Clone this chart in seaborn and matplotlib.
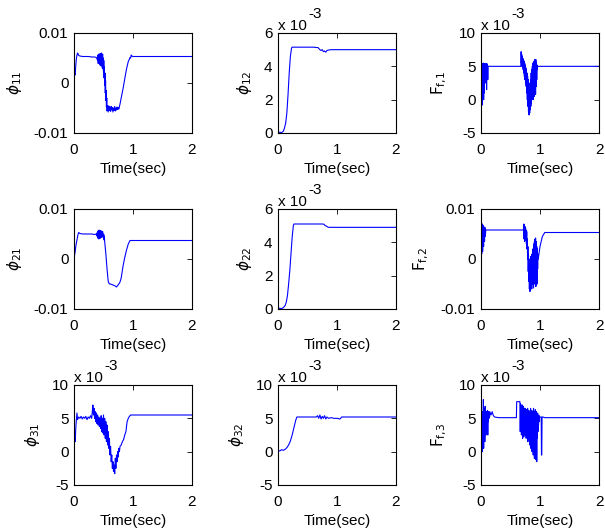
import matplotlib
matplotlib.use("Agg")
import matplotlib.pyplot as plt
import numpy as np
import pandas as pd
import seaborn as sns

# ---------------- data: (time [s], value in units of 1e-3) ----------------
phi11 = [(0.00,0.0),(0.005,1.2),(0.01,2.0),(0.02,1.6),(0.03,3.5),(0.04,4.8),(0.05,5.6),(0.06,6.0),(0.07,5.8),(0.08,5.5),
         (0.10,5.4),(0.15,5.3),(0.20,5.3),(0.25,5.3),(0.30,5.2),(0.35,5.2),(0.38,5.1),
         (0.400,4.5),(0.405,5.6),(0.410,3.9),(0.415,5.4),(0.420,4.6),(0.425,5.8),(0.430,4.0),(0.435,5.6),(0.440,3.6),(0.445,5.9),
         (0.450,4.2),(0.455,5.7),(0.460,3.4),(0.465,6.0),(0.470,3.8),(0.475,5.5),(0.480,3.0),(0.485,5.8),(0.490,2.8),(0.495,5.0),
         (0.500,2.2),(0.505,4.5),(0.510,1.0),(0.515,3.2),(0.520,-0.5),(0.525,2.0),(0.530,-2.0),(0.535,0.5),(0.540,-3.5),(0.545,-1.5),
         (0.550,-4.8),(0.555,-3.0),(0.560,-5.6),
         (0.57,-4.5),(0.58,-5.8),(0.59,-4.6),(0.60,-5.5),(0.61,-4.8),(0.62,-5.7),(0.63,-4.7),(0.64,-5.4),(0.65,-4.9),(0.66,-5.8),
         (0.67,-5.0),(0.68,-5.5),(0.69,-4.7),(0.70,-5.6),(0.71,-5.0),(0.72,-5.4),(0.73,-4.8),(0.74,-5.3),(0.75,-4.9),(0.76,-5.2),
         (0.78,-4.2),(0.80,-3.0),(0.83,-1.2),(0.86,0.8),(0.89,2.8),(0.92,4.3),(0.94,4.8),(0.95,5.1),(0.96,5.0),(0.97,5.6),
         (0.98,5.4),(1.00,5.3),(1.50,5.3),(2.00,5.3)]

phi12 = [(0.00,0.0),(0.03,0.05),(0.06,0.02),(0.09,0.1),(0.11,0.3),(0.13,0.6),(0.15,1.2),(0.17,2.3),(0.19,3.6),(0.21,4.6),
         (0.23,5.1),(0.24,5.15),(0.30,5.15),(0.40,5.15),(0.50,5.15),(0.60,5.15),(0.68,5.12),(0.71,5.0),(0.73,4.95),(0.75,5.0),
         (0.77,4.88),(0.79,4.92),(0.81,4.85),(0.83,4.95),(0.86,4.98),(0.90,5.0),(1.00,5.0),(1.50,5.0),(2.00,5.0)]

ff1 = [(0.000,5.0),(0.005,0.5),(0.010,5.5),(0.015,1.5),(0.020,5.2),(0.025,-0.8),(0.030,5.4),(0.035,2.0),(0.040,5.5),(0.045,0.0),
       (0.050,5.3),(0.055,1.0),(0.060,5.4),(0.065,3.0),(0.070,5.2),(0.075,2.5),(0.080,5.4),(0.085,3.5),(0.090,5.3),(0.095,1.5),
       (0.100,5.4),(0.105,4.0),(0.110,5.2),(0.115,3.0),(0.120,5.0),(0.130,5.0),(0.675,5.0),
       (0.680,7.2),(0.685,5.5),(0.690,6.8),(0.695,5.0),(0.700,6.5),(0.705,4.8),(0.710,6.2),(0.715,4.5),(0.720,6.0),(0.725,4.0),
       (0.730,5.8),(0.735,3.5),(0.740,5.5),(0.745,3.0),(0.750,5.2),(0.755,2.5),(0.760,4.8),(0.765,2.0),(0.770,4.5),(0.775,1.0),
       (0.780,4.0),(0.785,0.0),(0.790,3.5),(0.795,-1.0),(0.800,3.0),(0.805,-1.8),(0.810,2.0),(0.815,-2.3),(0.820,1.5),(0.825,-2.0),
       (0.830,2.5),(0.835,-1.5),(0.840,3.0),(0.845,-1.0),(0.850,4.0),(0.855,-0.5),(0.860,4.5),(0.865,0.0),(0.870,5.0),(0.875,0.5),
       (0.880,5.5),(0.885,0.0),(0.890,5.0),(0.895,1.0),(0.900,5.8),(0.905,0.5),(0.910,6.0),(0.915,1.5),(0.920,5.5),(0.925,0.8),
       (0.930,6.0),(0.935,2.0),(0.940,5.5),(0.945,3.0),(0.950,5.2),(0.955,4.5),(0.960,5.0),(1.00,5.0),(2.00,5.0)]

phi21 = [(0.00,0.0),(0.01,0.8),(0.02,1.5),(0.03,2.5),(0.05,3.8),(0.07,5.0),(0.08,5.3),(0.10,5.1),(0.15,5.0),(0.20,5.0),
         (0.25,5.0),(0.30,5.0),(0.35,4.9),(0.38,5.0),
         (0.390,4.6),(0.395,5.3),(0.400,4.2),(0.405,5.6),(0.410,4.4),(0.415,5.2),(0.420,4.0),(0.425,5.8),(0.430,4.5),(0.435,5.5),
         (0.440,4.1),(0.445,5.7),(0.450,4.6),(0.455,5.4),(0.460,4.3),(0.465,5.6),(0.470,4.8),(0.475,5.2),(0.480,4.4),(0.485,5.5),
         (0.490,4.7),(0.495,5.0),(0.500,4.2),(0.505,4.9),(0.510,3.8),(0.515,4.5),(0.520,3.5),
         (0.54,1.0),(0.56,-2.0),(0.58,-4.5),(0.60,-5.0),(0.62,-5.0),(0.64,-5.1),(0.66,-5.2),(0.68,-5.3),(0.70,-5.4),(0.72,-5.6),
         (0.74,-5.3),(0.76,-5.0),(0.78,-4.6),(0.80,-3.8),(0.83,-1.5),(0.86,0.3),(0.89,1.8),(0.92,3.0),(0.95,3.7),(0.97,3.7),
         (1.00,3.7),(1.50,3.7),(2.00,3.7)]

phi22 = [(0.00,0.0),(0.03,0.05),(0.06,0.02),(0.09,0.08),(0.12,0.2),(0.14,0.4),(0.16,0.8),(0.18,1.5),(0.20,2.3),(0.22,3.3),
         (0.24,4.3),(0.26,5.0),(0.27,5.1),(0.30,5.1),(0.40,5.1),(0.50,5.1),(0.60,5.1),(0.70,5.1),(0.76,5.1),(0.78,5.08),
         (0.80,5.0),(0.82,4.98),(0.84,4.92),(0.86,4.9),(0.90,4.9),(1.00,4.9),(1.50,4.9),(2.00,4.9)]

ff2 = [(0.000,5.8),(0.004,0.2),(0.008,6.5),(0.012,1.0),(0.016,6.0),(0.020,2.5),(0.024,7.0),(0.028,1.5),(0.032,6.8),(0.036,3.0),
       (0.040,6.5),(0.044,2.5),(0.048,6.2),(0.052,4.0),(0.056,6.0),(0.060,3.5),(0.064,6.4),(0.068,4.5),(0.072,6.0),(0.076,5.0),
       (0.080,5.8),(0.090,5.8),(0.715,5.8),
       (0.720,5.8),(0.725,7.0),(0.730,4.0),(0.735,6.8),(0.740,3.5),(0.745,6.5),(0.750,4.5),(0.755,6.2),(0.760,3.8),(0.765,5.8),
       (0.770,3.0),(0.775,5.5),(0.780,2.0),(0.785,4.0),(0.790,0.0),(0.795,2.5),(0.800,-2.5),(0.805,1.0),(0.810,-4.5),(0.815,0.0),
       (0.820,-6.0),(0.825,-1.0),(0.830,-6.5),(0.835,-2.0),(0.840,-5.5),(0.845,0.5),(0.850,-4.0),(0.855,-1.5),(0.860,-6.0),(0.865,1.0),
       (0.870,-5.0),(0.875,2.0),(0.880,-4.5),(0.885,0.0),(0.890,-5.8),(0.895,3.0),(0.900,-3.0),(0.905,3.5),(0.910,-5.0),(0.915,4.0),
       (0.920,-4.0),(0.925,4.2),(0.930,-5.5),(0.935,3.5),(0.940,-3.5),(0.945,2.5),(0.950,-5.0),(0.955,2.0),(0.960,-2.0),(0.965,1.0),
       (0.970,0.0),(1.00,2.5),(1.04,4.5),(1.08,5.3),(1.50,5.3),(2.00,5.3)]

phi31 = [(0.00,0.0),(0.01,2.5),(0.02,1.5),(0.03,3.5),(0.04,4.8),(0.05,5.8),(0.06,4.8),(0.08,5.2),(0.10,5.0),(0.12,5.3),
         (0.14,4.9),(0.16,5.2),(0.18,5.0),(0.20,5.3),(0.22,4.8),(0.24,5.2),(0.26,5.0),(0.28,5.4),(0.30,5.0),(0.31,6.0),
         (0.32,7.0),(0.33,5.5),(0.34,6.5),(0.35,5.0),(0.36,6.0),(0.37,4.5),(0.38,5.8),(0.39,4.2),(0.40,5.5),(0.41,4.0),
         (0.42,5.2),(0.43,3.8),(0.44,5.0),(0.45,3.5),(0.46,5.4),(0.47,3.0),(0.48,5.0),(0.49,2.8),(0.50,5.5),(0.51,2.5),
         (0.52,5.0),(0.53,2.0),(0.54,4.5),(0.55,1.5),(0.56,4.0),(0.57,1.0),(0.58,3.0),(0.59,0.5),(0.60,2.0),(0.61,-0.5),
         (0.62,0.8),(0.63,-1.5),(0.64,-0.5),(0.65,-2.5),(0.66,-1.5),(0.67,-3.0),(0.68,-2.0),(0.69,-3.3),(0.70,-1.0),(0.71,-2.5),
         (0.72,-0.5),(0.73,-1.5),(0.74,0.0),(0.75,-0.8),(0.76,0.5),(0.77,0.0),(0.78,0.8),(0.80,1.0),(0.82,1.5),(0.84,1.8),
         (0.86,2.5),(0.88,3.0),(0.90,4.5),(0.92,5.0),(0.94,5.3),(0.96,5.5),(1.00,5.5),(1.50,5.5),(2.00,5.5)]

phi32 = [(0.00,0.2),(0.03,0.1),(0.06,0.3),(0.09,0.2),(0.12,0.35),(0.15,0.6),(0.18,1.0),(0.21,1.6),(0.24,2.5),(0.27,3.6),
         (0.30,4.7),(0.32,5.2),(0.40,5.2),(0.50,5.2),(0.60,5.2),(0.65,5.2),(0.67,5.4),(0.69,5.0),(0.71,5.5),(0.73,4.9),
         (0.75,5.3),(0.77,5.0),(0.79,5.4),(0.81,4.9),(0.83,5.2),(0.86,5.0),(0.90,5.1),(0.95,5.0),(1.00,5.0),(1.05,4.9),
         (1.08,5.2),(1.20,5.2),(1.50,5.2),(2.00,5.2)]

ff3 = [(0.000,5.0),(0.005,-0.3),(0.010,5.8),(0.015,0.5),(0.020,6.0),(0.025,0.0),(0.030,5.5),(0.035,1.0),(0.040,7.8),(0.045,0.5),
       (0.050,6.5),(0.055,2.0),(0.060,5.8),(0.065,1.5),(0.070,6.8),(0.075,3.0),(0.080,5.5),(0.085,2.5),(0.090,6.0),(0.095,3.5),
       (0.100,5.8),(0.105,4.0),(0.110,6.2),(0.115,2.5),(0.120,5.5),(0.125,4.5),(0.130,6.0),(0.135,5.0),(0.140,5.8),(0.145,5.2),
       (0.150,6.0),(0.17,5.5),(0.19,6.0),(0.21,5.4),(0.23,5.2),(0.30,5.1),(0.600,5.1),(0.605,7.5),(0.655,7.5),
       (0.660,7.5),(0.665,3.0),(0.670,7.2),(0.675,4.0),(0.680,7.0),(0.685,2.5),(0.690,6.8),(0.695,3.5),(0.700,7.0),(0.705,2.0),
       (0.710,6.5),(0.715,3.0),(0.720,6.8),(0.725,2.2),(0.730,6.5),(0.735,4.0),(0.740,6.2),(0.745,2.5),(0.750,6.5),(0.755,3.5),
       (0.760,6.0),(0.765,2.0),(0.770,6.3),(0.775,3.0),(0.780,5.8),(0.785,2.5),(0.790,6.5),(0.795,1.5),(0.800,6.0),(0.805,3.0),
       (0.810,6.2),(0.815,2.0),(0.820,5.5),(0.825,1.0),(0.830,6.0),(0.835,2.5),(0.840,6.5),(0.845,0.5),(0.850,5.8),(0.855,1.5),
       (0.860,6.2),(0.865,0.0),(0.870,5.5),(0.875,1.0),(0.880,6.0),(0.885,-0.5),(0.890,6.5),(0.895,0.5),(0.900,5.5),(0.905,-1.0),
       (0.910,6.0),(0.915,0.0),(0.920,6.3),(0.925,-1.2),(0.930,5.8),(0.935,1.0),(0.940,6.0),(0.945,-1.5),(0.950,5.5),(0.955,2.0),
       (0.960,5.8),(0.965,3.0),(0.970,5.2),(0.975,4.0),(0.980,5.5),(0.985,4.5),(0.990,5.2),(1.020,5.2),(1.025,-0.5),(1.030,-0.5),
       (1.035,5.2),(1.050,5.2),(1.080,5.1),(2.000,5.1)]

labels = [r'$\phi_{11}$', r'$\phi_{12}$', r'$\mathrm{F}_{\mathrm{f{,}1}}$',
          r'$\phi_{21}$', r'$\phi_{22}$', r'$\mathrm{F}_{\mathrm{f{,}2}}$',
          r'$\phi_{31}$', r'$\phi_{32}$', r'$\mathrm{F}_{\mathrm{f{,}3}}$']
series = [phi11, phi12, ff1, phi21, phi22, ff2, phi31, phi32, ff3]
# axis kind: 'a' = +-0.01 (true units), 'b' = 0..6 x1e-3, 'c' = -5..10 x1e-3
kinds = ['a', 'b', 'c', 'a', 'b', 'a', 'c', 'c', 'c']
xticks = [0, 1, 2]

# ---------------- style ----------------
sns.set_theme(style='white')
plt.rcParams['font.family'] = ['Liberation Sans', 'DejaVu Sans']
plt.rcParams['axes.unicode_minus'] = False
plt.rcParams['mathtext.fontset'] = 'dejavusans'

FS = 11
W, H = 605, 531
fig = plt.figure(figsize=(W / 100, H / 100), dpi=100)
fig.patch.set_facecolor('white')

col_left = [74, 278, 481]
row_top = [33, 209, 385]
aw, ah = 118, 100

for i, (data, lab, kind) in enumerate(zip(series, labels, kinds)):
    r, c = divmod(i, 3)
    ax = fig.add_axes([col_left[c] / W, 1 - (row_top[r] + ah) / H, aw / W, ah / H])
    df = pd.DataFrame(data, columns=['t', 'v'])
    if kind == 'a':
        df['v'] = df['v'] * 1e-3
    sns.lineplot(data=df, x='t', y='v', ax=ax, estimator=None, sort=False,
                 color='#0000ff', linewidth=0.8)
    ax.set_xlim(0, 2)
    ax.set_xticks(xticks)
    ax.set_xticklabels([str(x) for x in xticks])
    if kind == 'a':
        ax.set_ylim(-0.01, 0.01)
        ax.set_yticks([-0.01, 0, 0.01])
        ax.set_yticklabels(['-0.01', '0', '0.01'])
    elif kind == 'b':
        ax.set_ylim(0, 6)
        ax.set_yticks([0, 2, 4, 6])
        ax.set_yticklabels(['0', '2', '4', '6'])
    else:
        ax.set_ylim(-5, 10)
        ax.set_yticks([-5, 0, 5, 10])
        ax.set_yticklabels(['-5', '0', '5', '10'])
    if kind in ('b', 'c'):
        t1 = ax.text(0.0, 1.0, 'x 10', transform=ax.transAxes,
                     ha='left', va='bottom', fontsize=FS, color='black')
        ax.annotate('-3', xy=(1.0, 0.85), xycoords=t1, xytext=(1, 0),
                    textcoords='offset points', ha='left', va='bottom',
                    fontsize=FS, color='black')
    ax.tick_params(direction='in', top=True, right=True, length=3.5, width=0.6,
                   labelsize=FS, pad=4, colors='black')
    ax.tick_params(axis='x', pad=7)
    for s in ax.spines.values():
        s.set_color('black')
        s.set_linewidth(0.8)
        s.set_visible(True)
    ax.set_xlabel('Time(sec)', fontsize=FS, labelpad=4, color='black')
    ax.set_ylabel(lab, fontsize=FS, labelpad=7, color='black')
    ax.set_facecolor('white')

fig.savefig('out.png', dpi=100, facecolor='white')
